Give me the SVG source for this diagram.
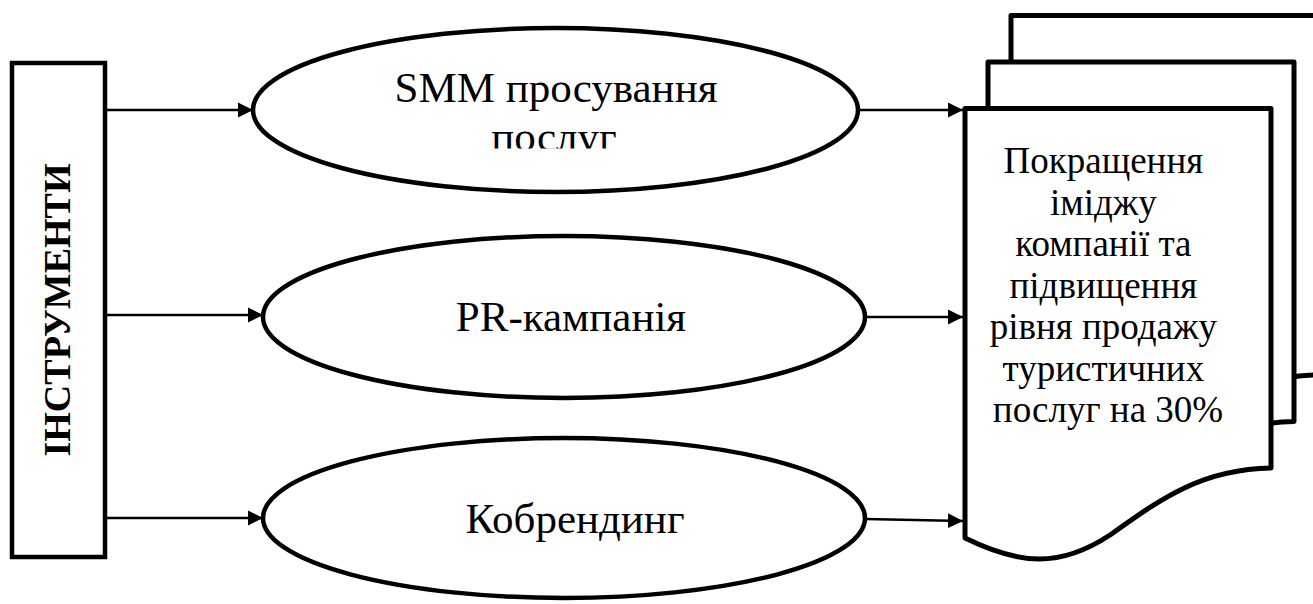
<svg xmlns="http://www.w3.org/2000/svg" width="1313" height="604" viewBox="0 0 1313 604">
<style>
.shape{fill:#fff;stroke:#000;stroke-width:4.5}
.doc{fill:#fff;stroke:#000;stroke-width:5;stroke-linejoin:round}
.conn{stroke:#000;stroke-width:2.3;fill:none}
.t{font-family:"Liberation Serif","Times New Roman",serif;fill:#000;text-anchor:middle}
.e{font-size:43px}
.d{font-size:37px}
.v{font-size:38px;font-weight:bold}
</style>
<defs>
<marker id="ah" markerUnits="userSpaceOnUse" markerWidth="16" markerHeight="16" viewBox="0 0 16 16" refX="15" refY="8" orient="auto">
<path d="M0,0.5 L15,8 L0,15.5 Z" fill="#000"/>
</marker>
<clipPath id="clipSmm"><rect x="300" y="40" width="520" height="108.5"/></clipPath>
<path id="page" d="M0,0 H306 V359.5 C235,361 195,391 145,426.5 C95,459.5 55,456.5 0,429.5 Z"/>
</defs>
<g id="tools">
<rect class="shape" x="12" y="63" width="93" height="494" stroke-width="5"/>
<text class="t v" transform="translate(70,310) rotate(-90)">ІНСТРУМЕНТИ</text>
</g>
<g id="smm">
<ellipse class="shape" cx="555.5" cy="110" rx="302.5" ry="82"/>
<g clip-path="url(#clipSmm)">
<text class="t e" x="556" y="102">SMM просування</text>
<text class="t e" x="554" y="151">послуг</text>
</g>
</g>
<g id="pr">
<ellipse class="shape" cx="564" cy="317" rx="301" ry="81"/>
<text class="t e" x="571" y="331">PR-кампанія</text>
</g>
<g id="cobranding">
<ellipse class="shape" cx="564" cy="518" rx="301" ry="80"/>
<text class="t e" x="575" y="533">Кобрендинг</text>
</g>
<g id="result">
<use href="#page" class="doc" x="1011" y="15.5"/>
<use href="#page" class="doc" x="988" y="62"/>
<use href="#page" class="doc" x="965" y="108.5"/>
<text class="t d" x="1108">
<tspan x="1108" y="173">Покращення</tspan>
<tspan x="1108" y="214.5">іміджу</tspan>
<tspan x="1108" y="256">компанії та</tspan>
<tspan x="1108" y="297.5">підвищення</tspan>
<tspan x="1108" y="339">рівня продажу</tspan>
<tspan x="1108" y="380.5">туристичних</tspan>
<tspan x="1108" y="422">послуг на 30%</tspan>
</text>
</g>
<g id="connectors">
<line class="conn" x1="105" y1="110" x2="253" y2="110" marker-end="url(#ah)"/>
<line class="conn" x1="105" y1="315" x2="263" y2="315" marker-end="url(#ah)"/>
<line class="conn" x1="105" y1="518" x2="263" y2="518" marker-end="url(#ah)"/>
<line class="conn" x1="858" y1="110" x2="963" y2="110" marker-end="url(#ah)"/>
<line class="conn" x1="865" y1="317" x2="963" y2="317" marker-end="url(#ah)"/>
<line class="conn" x1="865" y1="519" x2="963" y2="521" marker-end="url(#ah)"/>
</g>
</svg>
